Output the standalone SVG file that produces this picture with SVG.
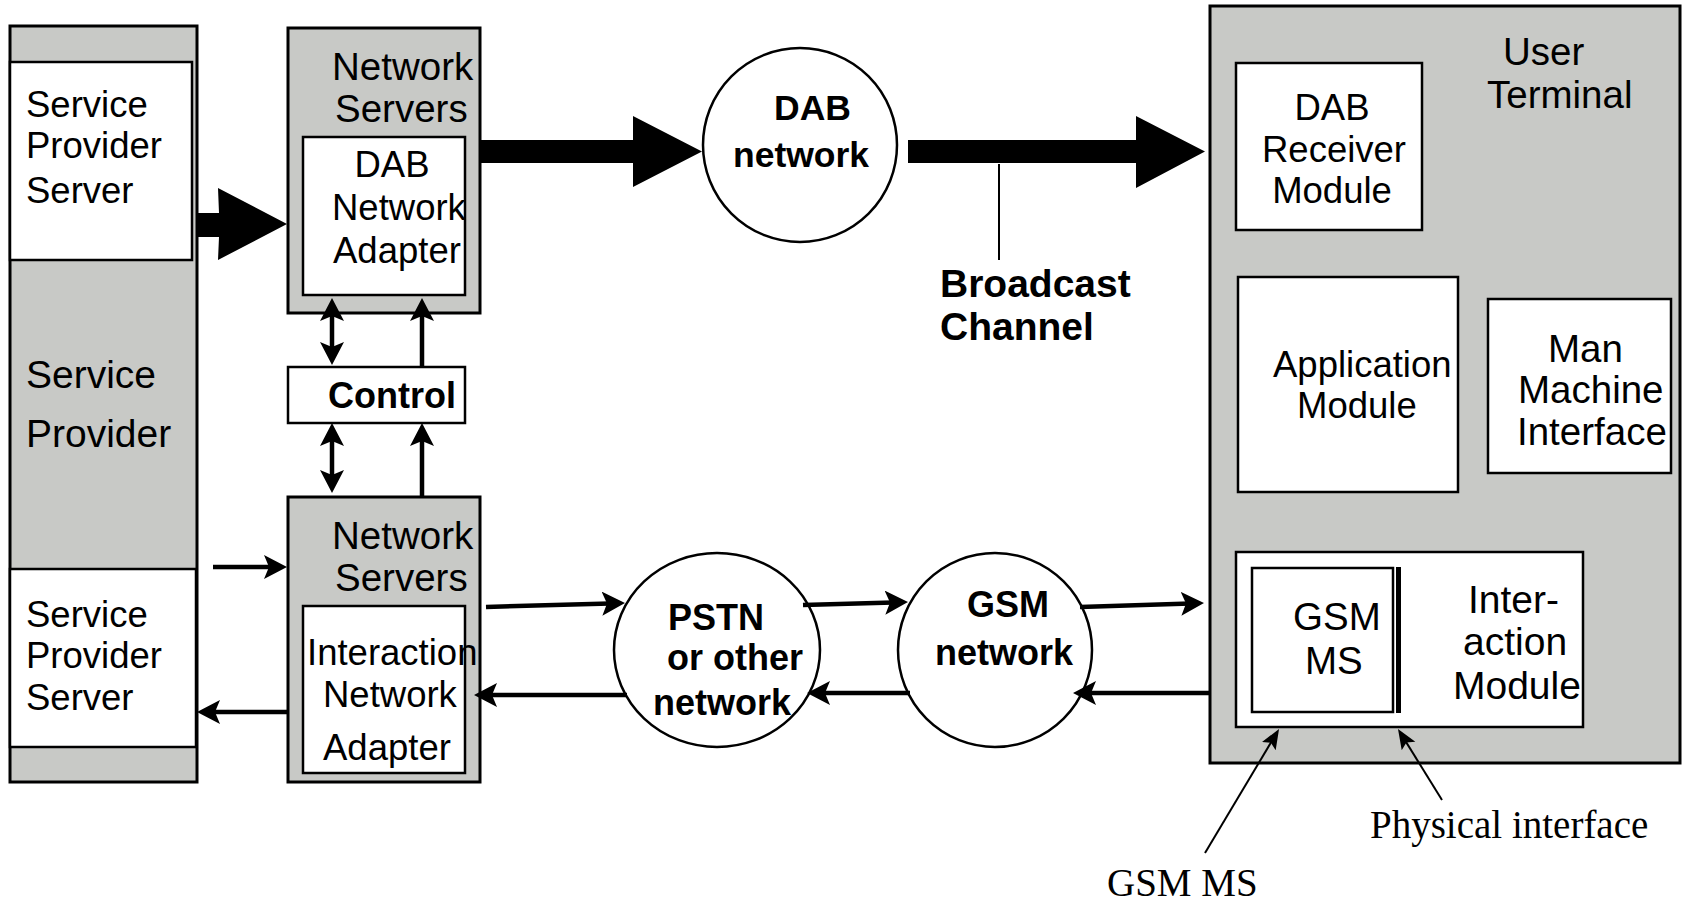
<svg xmlns="http://www.w3.org/2000/svg" width="1687" height="906" viewBox="0 0 1687 906">
<style>
.gray{fill:#c8c9c6;stroke:#000;stroke-width:3}
.white{fill:#fff;stroke:#000;stroke-width:2.5}
.ell{fill:#fff;stroke:#000;stroke-width:2.5}
.t{font-family:"Liberation Sans",Arial,sans-serif;fill:#000}
.b{font-family:"Liberation Sans",Arial,sans-serif;font-weight:bold;fill:#000}
.s{font-family:"Liberation Serif","Times New Roman",serif;fill:#000;font-size:39px}
.c{stroke:#000;stroke-width:4.5;fill:none}
.p{stroke:#000;stroke-width:2;fill:none}
</style>
<defs>
<marker id="ah" markerUnits="userSpaceOnUse" markerWidth="24" markerHeight="26" refX="17" refY="12" orient="auto-start-reverse"><path d="M0,0 L23,12 L0,24 L5,12 z" fill="#000"/></marker>
<marker id="ahs" markerUnits="userSpaceOnUse" markerWidth="21" markerHeight="18" refX="16" refY="8" orient="auto"><path d="M0,0 L20,8 L0,16 L4,8 z" fill="#000"/></marker>
</defs>

<g id="service-provider">
<rect class="gray" x="10" y="26" width="187" height="756"/>
<text class="t" font-size="39" x="26" y="388">Service</text>
<text class="t" font-size="39" x="26" y="447">Provider</text>
</g>
<g id="sps-top">
<rect class="white" x="10" y="62" width="182" height="198"/>
<text class="t" font-size="36.5" x="26" y="117">Service</text>
<text class="t" font-size="36.5" x="26" y="158">Provider</text>
<text class="t" font-size="36.5" x="26" y="203">Server</text>
</g>
<g id="sps-bottom">
<rect class="white" x="10" y="569" width="186" height="178"/>
<text class="t" font-size="36.5" x="26" y="627">Service</text>
<text class="t" font-size="36.5" x="26" y="668">Provider</text>
<text class="t" font-size="36.5" x="26" y="710">Server</text>
</g>

<g id="ns-top">
<rect class="gray" x="288" y="28" width="192" height="285"/>
<text class="t" font-size="38.5" x="332" y="80">Network</text>
<text class="t" font-size="38.5" x="335" y="122">Servers</text>
</g>
<g id="dab-adapter">
<rect class="white" x="303" y="137" width="162" height="158"/>
<text class="t" font-size="36.5" x="392" y="177" text-anchor="middle">DAB</text>
<text class="t" font-size="36.5" x="332" y="220">Network</text>
<text class="t" font-size="36.5" x="333" y="263">Adapter</text>
</g>
<g id="control">
<rect class="white" x="288" y="367" width="177" height="56"/>
<text class="b" font-size="36" x="328" y="408">Control</text>
</g>
<g id="ns-bottom">
<rect class="gray" x="288" y="497" width="192" height="285"/>
<text class="t" font-size="38.5" x="332" y="549">Network</text>
<text class="t" font-size="38.5" x="335" y="591">Servers</text>
</g>
<g id="interaction-adapter">
<rect class="white" x="303" y="606" width="162" height="167"/>
<text class="t" font-size="36.5" x="307" y="665">Interaction</text>
<text class="t" font-size="36.5" x="323" y="707">Network</text>
<text class="t" font-size="36.5" x="323" y="760">Adapter</text>
</g>

<g id="dab-network">
<ellipse class="ell" cx="800" cy="145" rx="97" ry="97"/>
<text class="b" font-size="35.5" x="774" y="120">DAB</text>
<text class="b" font-size="35.5" x="733" y="167">network</text>
</g>
<g id="broadcast-label">
<text class="b" font-size="39" x="940" y="297">Broadcast</text>
<text class="b" font-size="39" x="940" y="340">Channel</text>
</g>
<g id="pstn">
<ellipse class="ell" cx="717" cy="650" rx="103" ry="97"/>
<text class="b" font-size="36" x="668" y="630">PSTN</text>
<text class="b" font-size="36" x="667" y="670">or other</text>
<text class="b" font-size="36" x="653" y="715">network</text>
</g>
<g id="gsm-network">
<ellipse class="ell" cx="995" cy="650" rx="97" ry="97"/>
<text class="b" font-size="36" x="967" y="617">GSM</text>
<text class="b" font-size="36" x="935" y="665">network</text>
</g>

<g id="user-terminal">
<rect class="gray" x="1210" y="6" width="470" height="757"/>
<text class="t" font-size="38.5" x="1503" y="65">User</text>
<text class="t" font-size="38.5" x="1487" y="108">Terminal</text>
</g>
<g id="dab-receiver">
<rect class="white" x="1236" y="63" width="186" height="167"/>
<text class="t" font-size="36.5" x="1332" y="120" text-anchor="middle">DAB</text>
<text class="t" font-size="36.5" x="1334" y="162" text-anchor="middle">Receiver</text>
<text class="t" font-size="36.5" x="1332" y="203" text-anchor="middle">Module</text>
</g>
<g id="application">
<rect class="white" x="1238" y="277" width="220" height="215"/>
<text class="t" font-size="36.5" x="1273" y="377">Application</text>
<text class="t" font-size="36.5" x="1297" y="418">Module</text>
</g>
<g id="mmi">
<rect class="white" x="1488" y="299" width="183" height="174"/>
<text class="t" font-size="38.5" x="1548" y="362">Man</text>
<text class="t" font-size="38.5" x="1518" y="403">Machine</text>
<text class="t" font-size="38.5" x="1517" y="445">Interface</text>
</g>
<g id="interaction-module">
<rect class="white" x="1236" y="552" width="347" height="175"/>
<text class="t" font-size="39" x="1468" y="613">Inter-</text>
<text class="t" font-size="39" x="1463" y="655">action</text>
<text class="t" font-size="39" x="1453" y="699">Module</text>
</g>
<g id="gsm-ms">
<rect class="white" x="1252" y="568" width="141" height="144"/>
<text class="t" font-size="38.5" x="1293" y="630">GSM</text>
<text class="t" font-size="38.5" x="1305" y="674">MS</text>
<rect x="1396" y="567" width="5" height="146" fill="#000"/>
</g>
<g id="annotations">
<text class="s" x="1370" y="838">Physical interface</text>
<text class="s" x="1107" y="896">GSM MS</text>
</g>

<g id="connectors">
<polygon points="197,213 219,213 218,188 287,224 218,260 219,237 197,237" fill="#000"/>
<polygon points="480,140 633,140 633,116 702,151.5 633,187 633,163 480,163" fill="#000"/>
<polygon points="908,140 1136,140 1136,116 1205,151.5 1136,188 1136,163 908,163" fill="#000"/>
<line class="p" x1="999" y1="164" x2="999" y2="260"/>
<line class="c" x1="213" y1="567" x2="281" y2="567" marker-end="url(#ah)"/>
<line class="c" x1="288" y1="712" x2="203" y2="712" marker-end="url(#ah)"/>
<line class="c" x1="332" y1="304" x2="332" y2="359" marker-start="url(#ah)" marker-end="url(#ah)"/>
<line class="c" x1="422" y1="367" x2="422" y2="304" marker-end="url(#ah)"/>
<line class="c" x1="332" y1="429" x2="332" y2="487" marker-start="url(#ah)" marker-end="url(#ah)"/>
<line class="c" x1="422" y1="497" x2="422" y2="429" marker-end="url(#ah)"/>
<line class="c" x1="486" y1="607" x2="619" y2="603.2" marker-end="url(#ah)"/>
<line class="c" x1="803" y1="605" x2="902" y2="602.2" marker-end="url(#ah)"/>
<line class="c" x1="1080" y1="607" x2="1198" y2="603.2" marker-end="url(#ah)"/>
<line class="c" x1="1210" y1="693" x2="1079" y2="693" marker-end="url(#ah)"/>
<line class="c" x1="910" y1="693" x2="813" y2="693" marker-end="url(#ah)"/>
<line class="c" x1="627" y1="695" x2="480" y2="695" marker-end="url(#ah)"/>
<line class="p" x1="1205" y1="853" x2="1277" y2="732.4" marker-end="url(#ahs)"/>
<line class="p" x1="1442" y1="800" x2="1400.1" y2="732.4" marker-end="url(#ahs)"/>
</g>
</svg>
